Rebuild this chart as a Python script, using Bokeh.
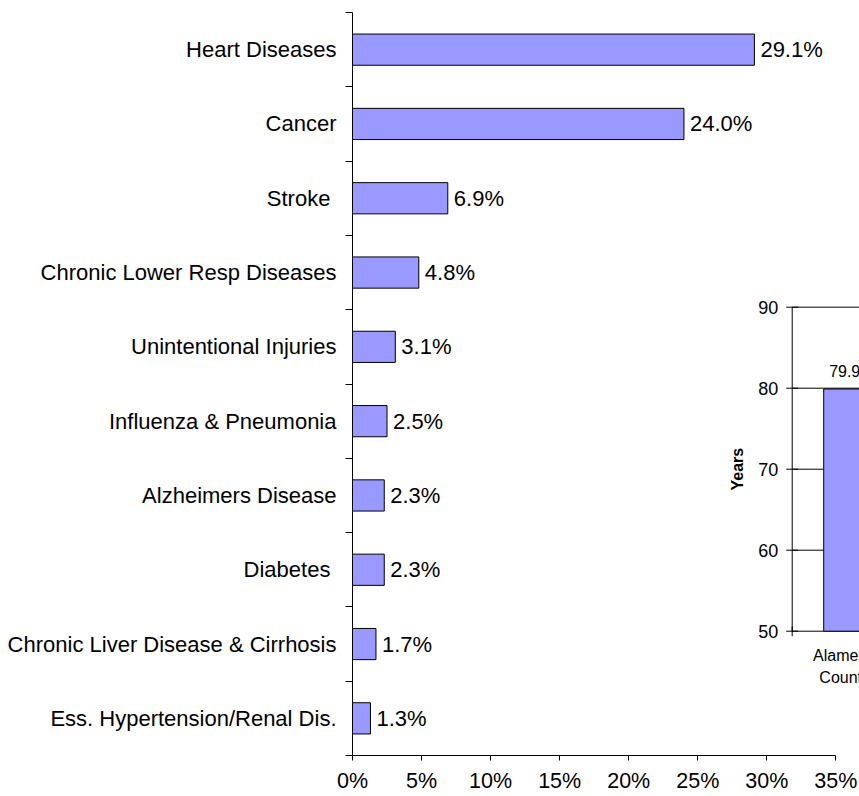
import math
from bokeh.plotting import figure
from bokeh.models import Range1d, FixedTicker, NumeralTickFormatter
from bokeh.core.properties import value
from bokeh.embed import file_html
from bokeh.resources import INLINE

# ---- main chart data ----
causes = ["Heart Diseases", "Cancer", "Stroke ", "Chronic Lower Resp Diseases",
          "Unintentional Injuries", "Influenza & Pneumonia", "Alzheimers Disease",
          "Diabetes ", "Chronic Liver Disease & Cirrhosis", "Ess. Hypertension/Renal Dis."]
shares = [0.291, 0.240, 0.069, 0.048, 0.031, 0.025, 0.023, 0.023, 0.017, 0.013]
share_labels = ["29.1%", "24.0%", "6.9%", "4.8%", "3.1%", "2.5%", "2.3%", "2.3%", "1.7%", "1.3%"]
x_ticks = [0.0, 0.05, 0.10, 0.15, 0.20, 0.25, 0.30, 0.35]

# ---- inset chart data ----
inset_categories = ["Alameda County"]
inset_years = [79.9]
inset_year_labels = ["79.9"]
inset_ticks = [50, 60, 70, 80, 90]

FONT = value("Liberation Sans")
BAR = "#9999FF"

n = len(causes)
ypos = [n - i - 0.5 for i in range(n)]

p = figure(width=859, height=796, output_backend="svg", toolbar_location=None,
           x_range=Range1d(0, 0.3671), y_range=Range1d(0, n),
           min_border_left=352, min_border_right=0, min_border_top=12, min_border_bottom=41)
p.outline_line_color = None
p.xgrid.visible = False
p.ygrid.visible = False
p.background_fill_color = "white"

# y axis: labels at centers, ticks at category boundaries
ya = p.yaxis[0]
ya.ticker = FixedTicker(ticks=ypos, minor_ticks=list(range(n + 1)))
ya.major_label_overrides = {y: c for y, c in zip(ypos, causes)}
ya.major_tick_out = 0
ya.major_tick_in = 0
ya.minor_tick_out = 7
ya.minor_tick_in = 0
ya.minor_tick_line_color = "black"
ya.axis_line_color = "black"
ya.major_label_standoff = 9
ya.major_label_text_font = "Liberation Sans"
ya.major_label_text_font_size = "22px"
ya.major_label_text_color = "black"

xa = p.xaxis[0]
xa.ticker = FixedTicker(ticks=x_ticks, minor_ticks=[])
xa.formatter = NumeralTickFormatter(format="0%")
xa.bounds = (x_ticks[0], x_ticks[-1])
xa.major_tick_out = 5
xa.major_tick_in = 0
xa.major_tick_line_color = "black"
xa.axis_line_color = "black"
xa.major_label_standoff = 8
xa.major_label_text_font = "Liberation Sans"
xa.major_label_text_font_size = "21.5px"
xa.major_label_text_color = "black"

p.hbar(y=ypos, left=0, right=shares, height=0.42, fill_color=BAR, line_color="black", line_width=1)
p.text(x=shares, y=ypos, text=share_labels, x_offset=6, text_baseline="middle", text_align="left",
       text_font=FONT, text_font_size="22px", text_color="black")

# ---- inset chart drawn in its own ranges ----
p.extra_x_ranges = {"ix": Range1d(-4.188, 0.641)}
p.extra_y_ranges = {"iy": Range1d(34.654, 126.38)}
kw = dict(x_range_name="ix", y_range_name="iy")

nb = len(inset_categories)
ix = [i + 0.5 for i in range(nb)]
bounds_x = list(range(nb + 1))
ymin, ymax = min(inset_ticks), max(inset_ticks)

# horizontal gridlines and base axis line
p.ray(x=[0] * len(inset_ticks), y=inset_ticks, length=0, angle=0, line_color="black", line_width=1, **kw)
# vertical axis line
p.segment(x0=[0], y0=[ymin], x1=[0], y1=[ymax], line_color="black", line_width=1, **kw)
# y ticks
p.scatter(x=[0] * len(inset_ticks), y=inset_ticks, marker="dash", size=12, line_color="black", line_width=1, **kw)
# x category boundary ticks
p.scatter(x=bounds_x, y=[ymin] * len(bounds_x), marker="dash", angle=math.pi / 2, size=10,
          line_color="black", line_width=1, **kw)
# tick labels
p.text(x=[0] * len(inset_ticks), y=inset_ticks, text=[str(t) for t in inset_ticks], x_offset=-14,
       text_align="right", text_baseline="middle", text_font=FONT, text_font_size="18px",
       text_color="black", **kw)
# bar
p.vbar(x=ix, bottom=ymin, top=inset_years, width=0.4, fill_color=BAR, line_color="black", line_width=1, **kw)
p.text(x=ix, y=inset_years, text=inset_year_labels, y_offset=-12, text_align="center",
       text_baseline="bottom", text_font=FONT, text_font_size="16px", text_color="black", **kw)
p.text(x=ix, y=[ymin] * nb, text=[c.replace(" ", "\n") for c in inset_categories], y_offset=16,
       text_align="center", text_baseline="top", text_line_height=1.3, text_font=FONT,
       text_font_size="16px", text_color="black", **kw)
p.text(x=[0], y=[(ymin + ymax) / 2], text=["Years"], x_offset=-55, angle=math.pi / 2,
       text_align="center", text_baseline="middle", text_font=FONT, text_font_size="16px",
       text_font_style="bold", text_color="black", **kw)

open("out.html", "w").write(file_html(p, INLINE))
